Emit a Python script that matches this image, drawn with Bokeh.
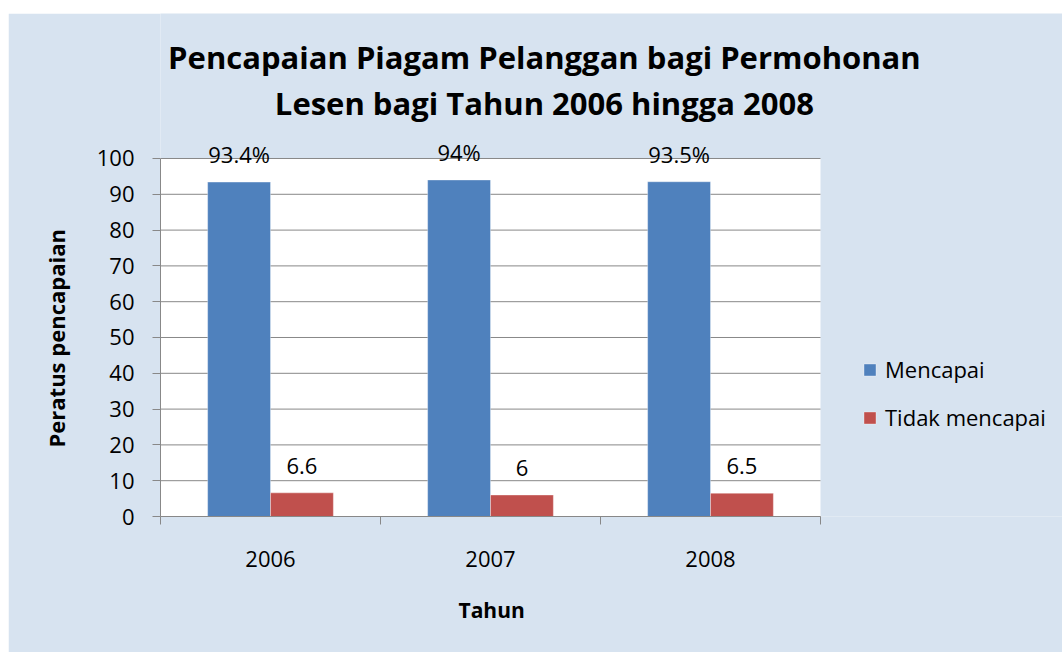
from bokeh.plotting import figure
from bokeh.models import (Range1d, FixedTicker, LinearAxis, Legend, LegendItem,
                          LabelSet, Label, ColumnDataSource, Spacer, BoxAnnotation, Title)
from bokeh.layouts import column, row
from bokeh.core.properties import value
from bokeh.embed import file_html
from bokeh.resources import INLINE

# ---- data ----
years = ["2006", "2007", "2008"]
mencapai = [93.4, 94.0, 93.5]
tidak_mencapai = [6.6, 6.0, 6.5]
mencapai_labels = ["93.4%", "94%", "93.5%"]
tidak_labels = ["6.6", "6", "6.5"]
y_ticks = [0, 10, 20, 30, 40, 50, 60, 70, 80, 90, 100]
series_names = ["Mencapai", "Tidak mencapai"]
title_lines = ["Pencapaian Piagam Pelanggan bagi Permohonan",
               "Lesen bagi Tahun 2006 hingga 2008"]
x_title = "Tahun"
y_title = "Peratus pencapaian"

# ---- styles ----
BG = "#d7e3f0"
BLUE = "#4f81bd"
RED = "#c0504d"
GRID = "#888888"
FONT = "Open Sans"

n = len(years)
y_max = y_ticks[-1]
centers = [i + 0.5 for i in range(n)]
bounds = [float(i) for i in range(n + 1)]
bar_w = 1 / 3.5
blue_x = [c - bar_w / 2 for c in centers]
red_x = [c + bar_w / 2 for c in centers]

# frame covers the whole chart area (right/top) so titles & legend live inside it
p = figure(width=1054, height=639, x_range=Range1d(0, 4.1), y_range=Range1d(0, 140.5),
           output_backend="svg", toolbar_location=None,
           x_axis_type=None, y_axis_type=None,
           min_border_left=152, min_border_right=0,
           min_border_top=0, min_border_bottom=136,
           background_fill_color=BG, border_fill_color=BG,
           outline_line_color=None)

# white plot area
p.add_layout(BoxAnnotation(left=0, right=n, bottom=0, top=y_max,
                           fill_color="white", fill_alpha=1.0, line_color=None,
                           level="underlay"))

# y axis
yaxis = LinearAxis(ticker=FixedTicker(ticks=y_ticks, minor_ticks=[]),
                   bounds=(0, y_max),
                   major_label_text_font=FONT, major_label_text_font_size="22px",
                   major_label_text_color="black", major_label_standoff=18,
                   axis_line_color=GRID, major_tick_line_color=GRID,
                   major_tick_out=8, major_tick_in=0, minor_tick_line_color=None)
p.add_layout(yaxis, "left")
p.add_layout(Title(text=y_title, align="left", offset=69, standoff=46,
                   text_font=FONT, text_font_style="bold", text_font_size="22px",
                   text_color="black"), "left")

# x axis: labels at category centres, tick marks at category boundaries
xaxis = LinearAxis(ticker=FixedTicker(ticks=centers, minor_ticks=bounds),
                   bounds=(0, n),
                   major_label_overrides={c: y for c, y in zip(centers, years)},
                   major_label_text_font=FONT, major_label_text_font_size="22px",
                   major_label_text_color="black", major_label_standoff=26,
                   axis_line_color=GRID, major_tick_line_color=None,
                   major_tick_out=0, major_tick_in=0,
                   minor_tick_line_color=GRID, minor_tick_out=8, minor_tick_in=0)
p.add_layout(xaxis, "below")
p.add_layout(Title(text=x_title, align="left", offset=298, standoff=52,
                   vertical_align="top",
                   text_font=FONT, text_font_style="bold", text_font_size="21px",
                   text_color="black"), "below")

# horizontal gridlines across the category area
p.segment(x0=[0] * len(y_ticks), x1=[n] * len(y_ticks), y0=y_ticks, y1=y_ticks,
          line_color=GRID, line_width=1)

r1 = p.vbar(x=blue_x, top=mencapai, bottom=0, width=bar_w,
            fill_color=BLUE, line_color="white", line_alpha=0.35, line_width=1)
r2 = p.vbar(x=red_x, top=tidak_mencapai, bottom=0, width=bar_w,
            fill_color=RED, line_color="white", line_alpha=0.35, line_width=1)

src1 = ColumnDataSource(dict(x=blue_x, y=mencapai, t=mencapai_labels))
src2 = ColumnDataSource(dict(x=red_x, y=tidak_mencapai, t=tidak_labels))
for src in (src1, src2):
    p.add_layout(LabelSet(x="x", y="y", text="t", source=src,
                          text_align="center", text_baseline="alphabetic",
                          y_offset=19, text_font=value(FONT), text_font_size="22px",
                          text_color="black"))

# chart title (two centred lines)
for line, yv in zip(title_lines, [128.4, 115.6]):
    p.add_layout(Label(x=1.745, y=yv, text=line, text_align="center",
                       text_baseline="alphabetic", text_font=FONT,
                       text_font_style="bold", text_font_size="31px",
                       text_color="black"))

legend = Legend(items=[LegendItem(label=series_names[0], renderers=[r1]),
                       LegendItem(label=series_names[1], renderers=[r2])],
                location=(702, 84), orientation="vertical",
                glyph_width=15, glyph_height=15, label_height=30, spacing=18,
                label_standoff=8, padding=0, margin=0,
                label_text_font=FONT, label_text_font_size="22px",
                label_text_color="black",
                border_line_color=None, background_fill_alpha=0)
p.add_layout(legend)

layout = column(Spacer(height=13, width=1062),
                row(Spacer(width=8, height=639), p))
open("out.html", "w").write(file_html(layout, INLINE))
